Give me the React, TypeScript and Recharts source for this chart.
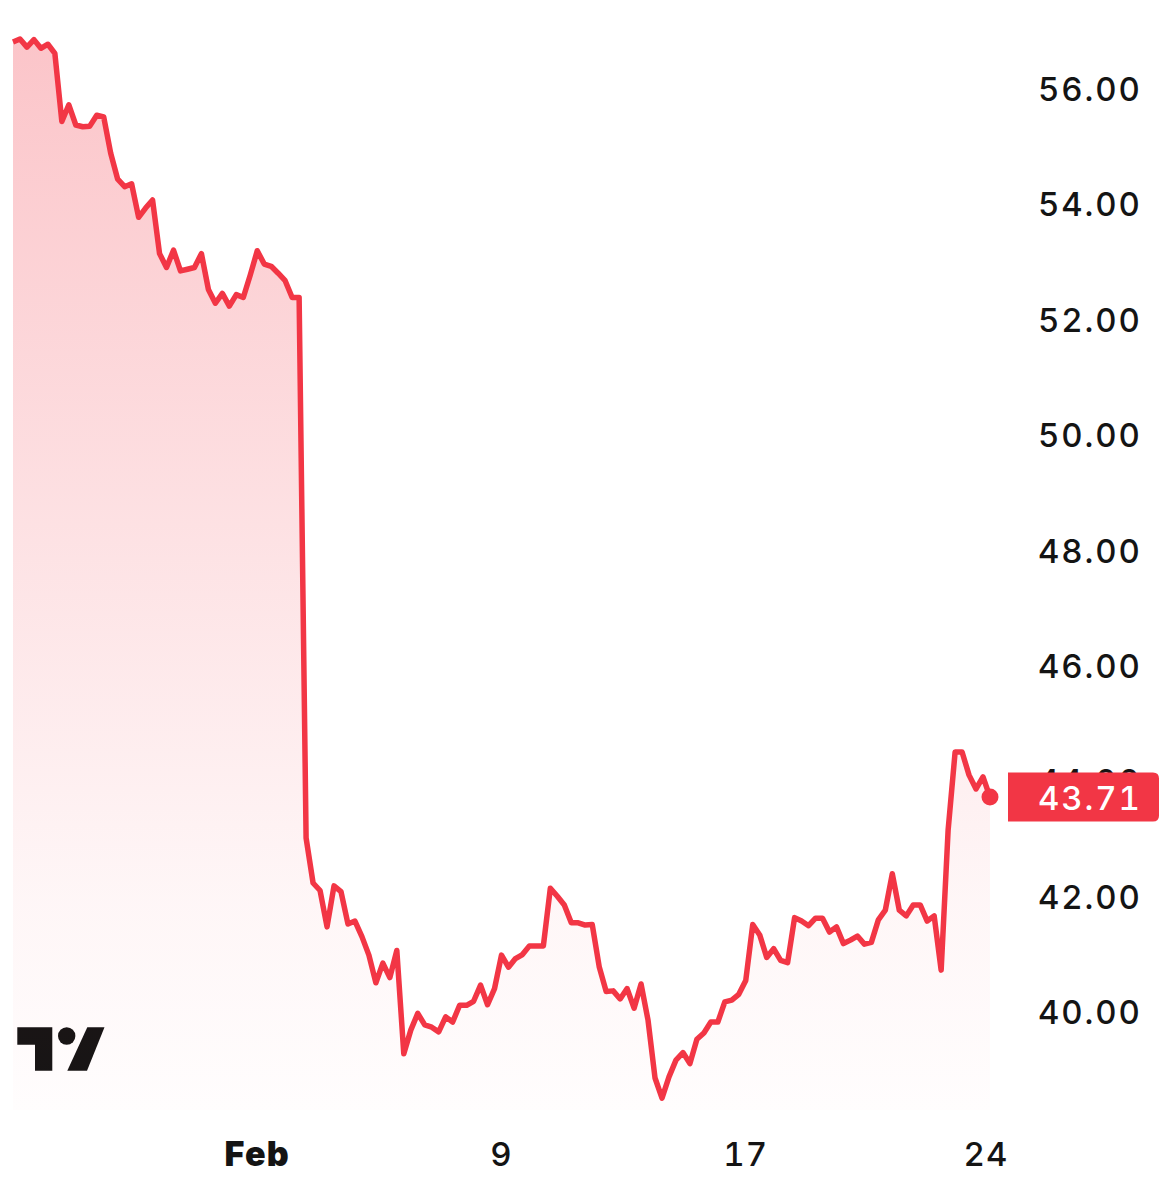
import React from "react";
import { ComposedChart, Area, XAxis, YAxis, ReferenceDot } from "recharts";

// closing price per bar
const closes = [
  56.8, 56.85, 56.71, 56.84, 56.69, 56.76, 56.6, 55.42, 55.71, 55.36,
  55.33, 55.34, 55.53, 55.5, 54.87, 54.42, 54.29, 54.34, 53.76, 53.92,
  54.06, 53.13, 52.89, 53.19, 52.83, 52.86, 52.89, 53.13, 52.51, 52.27,
  52.44, 52.22, 52.42, 52.37, 52.76, 53.18, 52.95, 52.91, 52.79, 52.66,
  52.37, 52.37, 43.0, 42.22, 42.09, 41.46, 42.17, 42.07, 41.51, 41.56,
  41.29, 40.97, 40.49, 40.83, 40.58, 41.05, 39.26, 39.67, 39.96, 39.76,
  39.72, 39.64, 39.9, 39.81, 40.1, 40.1, 40.17, 40.45, 40.11, 40.39,
  40.97, 40.76, 40.91, 40.98, 41.13, 41.13, 41.13, 42.13, 41.99, 41.84,
  41.53, 41.53, 41.49, 41.5, 40.77, 40.34, 40.35, 40.21, 40.39, 40.05,
  40.47, 39.84, 38.84, 38.49, 38.86, 39.15, 39.28, 39.09, 39.51, 39.62,
  39.81, 39.81, 40.16, 40.19, 40.29, 40.53, 41.5, 41.32, 40.93, 41.08,
  40.88, 40.84, 41.62, 41.56, 41.48, 41.61, 41.61, 41.37, 41.46, 41.17,
  41.23, 41.3, 41.16, 41.19, 41.58, 41.75, 42.38, 41.75, 41.65, 41.84,
  41.84, 41.56, 41.65, 40.71, 43.14, 44.49, 44.49, 44.09, 43.85, 44.06,
  43.71,
];

const dateTicks = [35, 70, 105, 140];
const dateLabels = ["Feb", "9", "17", "24"];
const lastPrice = 43.71;
// last price goes at the end so its badge paints over the 44.00 label
const priceTicks = [40, 42, 44, 46, 48, 50, 52, 54, 56, lastPrice];

const RED = "#f23645";
const INK = "#141414";
const FONT = "Inter, 'Noto Sans', sans-serif";

const data = closes.map((close, i) => ({ i, close }));

const DateTick = (props: any) => {
  const { x, y, payload } = props;
  const label = dateLabels[dateTicks.indexOf(payload.value)];
  const isMonth = label === "Feb";
  return (
    <text
      x={label === "24" ? x - 4 : x}
      y={y}
      dy={16}
      textAnchor="middle"
      fontFamily={FONT}
      fontSize={isMonth ? 34 : 33}
      fontWeight={isMonth ? 900 : 500}
      letterSpacing={1.2}
      fill={INK}
      style={{ fontVariantNumeric: "tabular-nums" }}
    >
      {label}
    </text>
  );
};

const PriceTick = (props: any) => {
  const { y, payload } = props;
  const textX = 1038;
  const isLast = payload.value === lastPrice;
  const t = y - 24.5;
  const b = y + 24.5;
  return (
    <g>
      {isLast && (
        <path d={`M1008 ${t}H1153Q1159 ${t} 1159 ${t + 6}V${b - 6}Q1159 ${b} 1153 ${b}H1008Z`} fill={RED} />
      )}
      <text
        x={textX}
        y={y}
        dy={13}
        fontFamily={FONT}
        fontSize={33}
        fontWeight={500}
        letterSpacing={1.9}
        fill={isLast ? "#fff" : INK}
        style={{ fontVariantNumeric: "tabular-nums" }}
      >
        {payload.value.toFixed(2)}
      </text>
    </g>
  );
};

export default function App() {
  return (
    <div style={{ position: "absolute", left: 0, top: 0, width: 1175, height: 1200, background: "#fff" }}>
      <ComposedChart
        width={1175}
        height={1200}
        data={data}
        margin={{ top: 20, right: 0, bottom: 0, left: 13 }}
      >
        <defs>
          <linearGradient id="closeFill" x1="0" y1="0" x2="0" y2="1">
            <stop offset="0%" stopColor={RED} stopOpacity={0.29} />
            <stop offset="50%" stopColor={RED} stopOpacity={0.135} />
            <stop offset="80%" stopColor={RED} stopOpacity={0.045} />
            <stop offset="100%" stopColor={RED} stopOpacity={0.01} />
          </linearGradient>
        </defs>
        <XAxis
          dataKey="i"
          type="number"
          domain={[0, 140]}
          ticks={dateTicks}
          interval={0}
          height={90}
          axisLine={false}
          tickLine={false}
          tickMargin={34}
          tick={<DateTick />}
        />
        <YAxis
          orientation="right"
          width={185}
          domain={[38.285, 57.18]}
          ticks={priceTicks}
          interval={0}
          axisLine={false}
          tickLine={false}
          tick={<PriceTick />}
        />
        <Area
          type="linear"
          dataKey="close"
          stroke={RED}
          strokeWidth={5.5}
          strokeLinejoin="round"
          fill="url(#closeFill)"
          fillOpacity={1}
          dot={false}
          activeDot={false}
          isAnimationActive={false}
        />
        <ReferenceDot x={140} y={lastPrice} r={8.5} fill={RED} stroke="none" />
        {/* TradingView mark */}
        <g fill={INK}>
          <path d="M17.3 1027.3H52.3V1070.7H35V1044.7H17.3Z" />
          <circle cx={66.7} cy={1036} r={8.7} />
          <path d="M87.3 1027.3H104.5L87 1070.7H67.3Z" />
        </g>
      </ComposedChart>
    </div>
  );
}
